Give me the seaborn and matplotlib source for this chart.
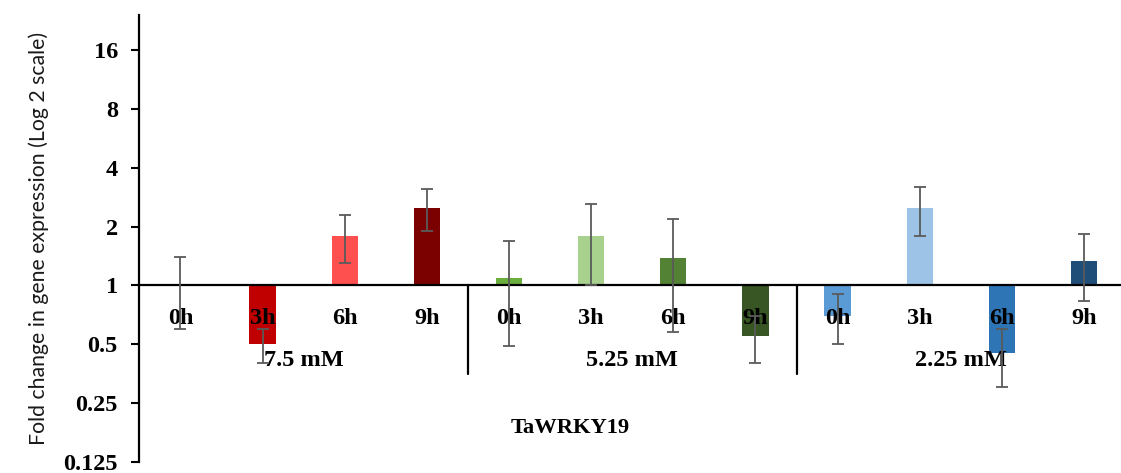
import numpy as np
import pandas as pd
import seaborn as sns
import matplotlib.pyplot as plt

# ---- data ----
concentrations = ["7.5 mM", "5.25 mM", "2.25 mM"]
hours = ["0h", "3h", "6h", "9h"]
fold_7_5 = [1.0, 0.5, 1.8, 2.5]
err_7_5 = [0.4, 0.1, 0.5, 0.6]
fold_5_25 = [1.09, 1.8, 1.38, 0.55]
err_5_25 = [0.6, 0.8, 0.8, 0.15]
fold_2_25 = [0.7, 2.5, 0.45, 1.33]
err_2_25 = [0.2, 0.7, 0.15, 0.5]
colors_7_5 = ["#C00000", "#C00000", "#FF5050", "#7B0000"]
colors_5_25 = ["#6AAE3E", "#A9D18E", "#548235", "#375623"]
colors_2_25 = ["#5B9BD5", "#9DC3E6", "#2E75B6", "#1F4E79"]
gene = "TaWRKY19"
ytick_values = [0.125, 0.25, 0.5, 1, 2, 4, 8, 16]

sns.set_theme(style="white")
plt.rcParams["font.family"] = ["Liberation Serif", "DejaVu Serif"]

folds = fold_7_5 + fold_5_25 + fold_2_25
errs = err_7_5 + err_5_25 + err_2_25
cols = colors_7_5 + colors_5_25 + colors_2_25
keys = [f"{c} {h}" for c in concentrations for h in hours]
df = pd.DataFrame({"key": keys,
                   "hour": hours * len(concentrations),
                   "fold": folds, "err": errs})
df["log2"] = np.log2(df["fold"])
df["lo"] = df["log2"] - np.log2(df["fold"] - df["err"])
df["hi"] = np.log2(df["fold"] + df["err"]) - df["log2"]

fig = plt.figure(figsize=(11.21, 4.73), dpi=100)
ax = fig.add_axes([0.1243, 0.024, 0.8757, 0.944])

sns.barplot(data=df, x="key", y="log2", hue="key", order=keys,
            palette=dict(zip(keys, cols)), width=0.32, saturation=1,
            linewidth=0, legend=False, ax=ax, zorder=1)

xpos = np.arange(len(df))
ax.errorbar(xpos, df["log2"], yerr=[df["lo"], df["hi"]], fmt="none",
            ecolor="#5A5A5A", elinewidth=1.3, capsize=4, capthick=1.3, zorder=3)

ax.set_xlim(-0.5, len(df) - 0.55)
ax.set_ylim(-3, 4.6)

yt = np.log2(ytick_values)
ax.set_yticks(yt)
ax.set_yticklabels([f"{v:g}" for v in ytick_values], fontsize=17.5,
                   fontweight="bold")
ax.tick_params(axis="y", direction="out", length=5.5, width=1.5,
               color="black", labelcolor="black", pad=10, left=True)

ax.spines["bottom"].set_position(("data", 0))
ax.set_xticks(xpos)
ax.set_xticklabels(df["hour"], fontsize=17.5, fontweight="bold")
ax.tick_params(axis="x", length=0, pad=16, labelcolor="black")
ax.xaxis.set_zorder(2.5)

for s in ["top", "right"]:
    ax.spines[s].set_visible(False)
for s in ["left", "bottom"]:
    ax.spines[s].set_color("black")
    ax.spines[s].set_linewidth(1.6)
    ax.spines[s].set_zorder(2.6)

# group separators and labels
n = len(hours)
for g, c in enumerate(concentrations):
    center = g * n + (n - 1) / 2
    ax.text(center, -1.27, c, ha="center", va="center", fontsize=17.5,
            fontweight="bold", color="black", zorder=2.5)
    if g > 0:
        ax.plot([g * n - 0.5, g * n - 0.5], [0, -1.5], color="black",
                lw=1.6, zorder=3, clip_on=False)

ax.text(0.4387, 0.075, gene, transform=ax.transAxes, ha="center",
        va="center", fontsize=16.2, fontweight="bold", color="black")

ax.set_xlabel("")
ax.set_ylabel("Fold change in gene expression (Log 2 scale)", fontsize=15.3,
              family=["Lato", "DejaVu Sans"], labelpad=10, color="#1a1a1a")

fig.savefig("out.png", dpi=100)
